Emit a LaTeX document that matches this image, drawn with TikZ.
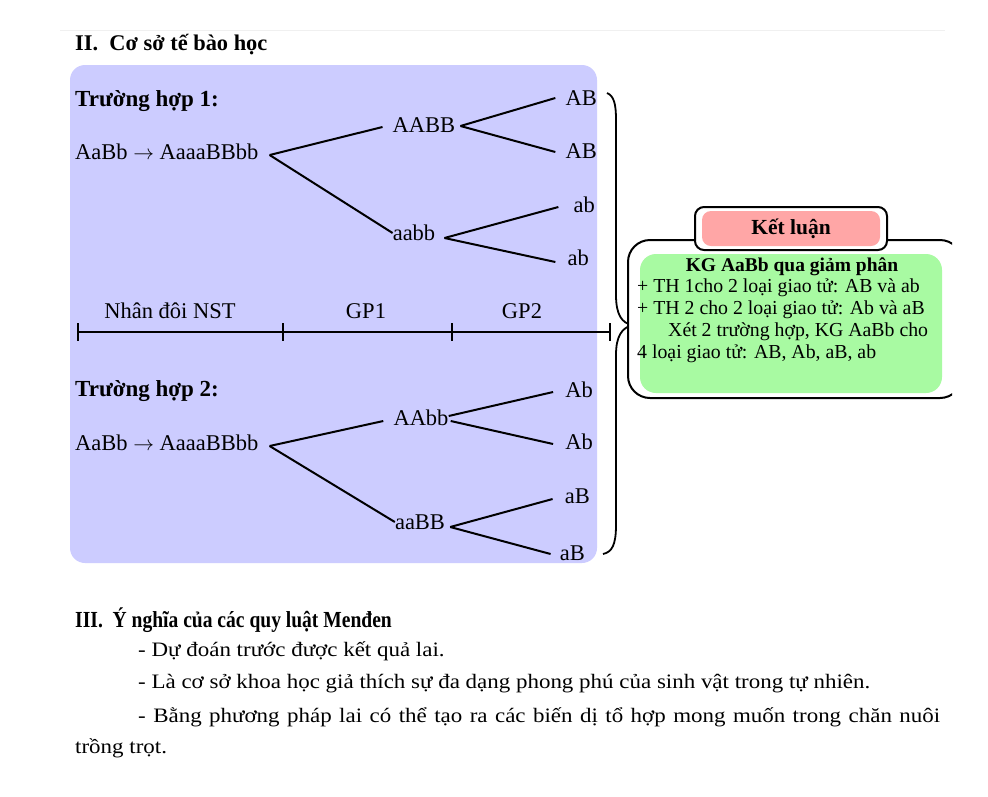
\documentclass[tikz,border=0pt]{standalone}
\usepackage{fontspec}
\setmainfont{Liberation Serif}
\newfontfamily\widefont[FakeStretch=1.12]{Liberation Serif}
\newfontfamily\narrowfont[FakeStretch=0.85]{Liberation Serif}
\usetikzlibrary{calc}
\definecolor{lav}{HTML}{CCCCFF}
\definecolor{grn}{HTML}{A8FAA2}
\definecolor{pnk}{HTML}{FFA6A6}
\tikzset{
  txt/.style={inner sep=4pt, font=\fontsize{22.5}{26}\selectfont},
  hd/.style={inner sep=0pt, anchor=west, font=\fontsize{23}{26}\selectfont\bfseries},
  br/.style={line width=2pt},
  tl/.style={line width=1.8pt},
  concl/.style={inner sep=0pt, anchor=west, font=\fontsize{19.8}{22}\selectfont},
  body/.style={inner sep=0pt, anchor=west, font=\widefont\fontsize{20.5}{24}\selectfont},
}
\begin{document}
\begin{tikzpicture}[x=1pt,y=-1pt]
\useasboundingbox (0,0) rectangle (988,796);
\fill[white] (0,0) rectangle (988,796);
\draw[black!6, line width=0.8pt] (60,30) -- (945,30);
% title
\node[hd, font=\fontsize{22.4}{26}\selectfont\bfseries] (title) at (75,45) {II.\ \ Cơ sở tế bào học};
% lavender panel
\fill[lav, rounded corners=15pt] (70,65) rectangle (597,563);
% case 1
\node[hd] (t1) at (75,101) {Trường hợp 1:};
\node[txt, anchor=west, inner sep=0pt] (p1) at (75,152) {AaBb $\rightarrow$ AaaaBBbb};
\node[txt, inner sep=3pt] (AABB) at (424,125) {AABB};
\node[txt, inner sep=2pt] (aabb) at (414,233) {aabb};
\node[txt, anchor=east, inner sep=0pt] (g1) at (597,98) {AB};
\node[txt, anchor=east, inner sep=0pt] (g2) at (597,151) {AB};
\node[txt, anchor=east, inner sep=0pt] (g3) at (595,205) {ab};
\node[txt, anchor=east, inner sep=0pt] (g4) at (589,258) {ab};
\coordinate (p1o) at ($(p1.east)+(11,3)$);
\coordinate (AABBo) at ($(AABB.east)+(2,1)$);
\coordinate (aabbo) at ($(aabb.east)+(7,5)$);
\draw[br] (p1o) -- ($(AABB.west)+(-7,2)$);
\draw[br] (p1o) -- ($(aabb.west)+(2,0)$);
\draw[br] (AABBo) -- ($(g1.west)+(-10,0)$);
\draw[br] (AABBo) -- ($(g2.west)+(-10,1)$);
\draw[br] (aabbo) -- ($(g3.west)+(-15,2)$);
\draw[br] (aabbo) -- ($(g4.west)+(-12,4)$);
% timeline
\coordinate (k0) at (78,332);
\coordinate (k1) at (283,332);
\coordinate (k2) at (452,332);
\coordinate (k3) at (610,332);
\draw[tl] (k0) -- (k3);
\foreach \k in {k0,k1,k2,k3} \draw[line width=1.5pt] ($(\k)+(0,-9)$) -- ($(\k)+(0,9)$);
\node[txt, inner sep=0pt] (s1) at (170,311) {Nhân đôi NST};
\node[txt, inner sep=0pt] (s2) at (366,311) {GP1};
\node[txt, inner sep=0pt] (s3) at (522,311) {GP2};
% case 2
\node[hd] (t2) at (75,391) {Trường hợp 2:};
\node[txt, anchor=west, inner sep=0pt] (p2) at (75,443) {AaBb $\rightarrow$ AaaaBBbb};
\node[txt, inner sep=2pt] (AAbb) at (421,418) {AAbb};
\node[txt, inner sep=2pt] (aaBB) at (420,522) {aaBB};
\node[txt, anchor=east, inner sep=0pt] (h1) at (593,390) {Ab};
\node[txt, anchor=east, inner sep=0pt] (h2) at (593,442) {Ab};
\node[txt, anchor=east, inner sep=0pt] (h3) at (590,496) {aB};
\node[txt, anchor=east, inner sep=0pt] (h4) at (585,553) {aB};
\coordinate (p2o) at ($(p2.east)+(11,3)$);
\coordinate (AAbbo) at ($(AAbb.east)+(-2,-2)$);
\coordinate (AAbbo2) at ($(AAbb.east)+(0,3)$);
\coordinate (aaBBo) at ($(aaBB.east)+(3,5)$);
\draw[br] (p2o) -- ($(AAbb.west)+(-8,3)$);
\draw[br] (p2o) -- ($(aaBB.west)+(2,0)$);
\draw[br] (AAbbo) -- ($(h1.west)+(-12,2)$);
\draw[br] (AAbbo2) -- ($(h2.west)+(-12,2)$);
\draw[br] (aaBBo) -- ($(h3.west)+(-12,3)$);
\draw[br] (aaBBo) -- ($(h4.west)+(-9,1)$);
% brace
\coordinate (bt) at (607,93);
\coordinate (bc) at (632,325);
\coordinate (bb) at (603,554);
\draw[line width=1.8pt] (bt) .. controls (614,96) and (616,104) .. (616,120)
  -- (616,295) .. controls (616,315) and (622,323) .. (bc)
  .. controls (622,328) and (616,336) .. (616,355)
  -- (616,525) .. controls (616,545) and (612,552) .. (bb);
% conclusion box
\begin{scope}
\clip (600,150) rectangle (952,420);
\draw[line width=2pt, fill=white, rounded corners=22pt] (628,240) rectangle (962,398);
\end{scope}
\fill[grn, rounded corners=16pt] (640,254) rectangle (942,393);
\draw[line width=2pt, fill=white, rounded corners=9pt] (695,207) rectangle (887,250);
\fill[pnk, rounded corners=9pt] (702,211) rectangle (880,246);
\node[inner sep=0pt, font=\fontsize{21.5}{24}\selectfont\bfseries] (kl) at (791,229) {Kết luận};
\node[inner sep=0pt, font=\fontsize{19.5}{22}\selectfont\bfseries] (c0) at (792,267) {KG AaBb qua giảm phân};
\node[concl] (c1) at (637,288) {+ TH 1cho 2 loại giao tử: AB và ab};
\node[concl] (c2) at (637,310) {+ TH 2 cho 2 loại giao tử: Ab và aB};
\node[concl] (c3) at (668,332) {Xét 2 trường hợp, KG AaBb cho};
\node[concl] (c4) at (637,354) {4 loại giao tử: AB, Ab, aB, ab};
% section III
\node[hd, font=\narrowfont\fontsize{23}{26}\selectfont\bfseries] (t3) at (75,620) {III.\ \ Ý nghĩa của các quy luật Menđen};
\node[body] (b1) at (138,651) {- Dự đoán trước được kết quả lai.};
\node[body] (b2) at (138,684) {- Là cơ sở khoa học giả thích sự đa dạng phong phú của sinh vật trong tự nhiên.};
\node[body] (b3) at (138,717) {\hbox to 802pt{- Bằng phương pháp lai có thể tạo ra các biến dị tổ hợp mong muốn trong chăn nuôi}};
\node[body] (b4) at (75,748) {trồng trọt.};
\end{tikzpicture}
\end{document}
